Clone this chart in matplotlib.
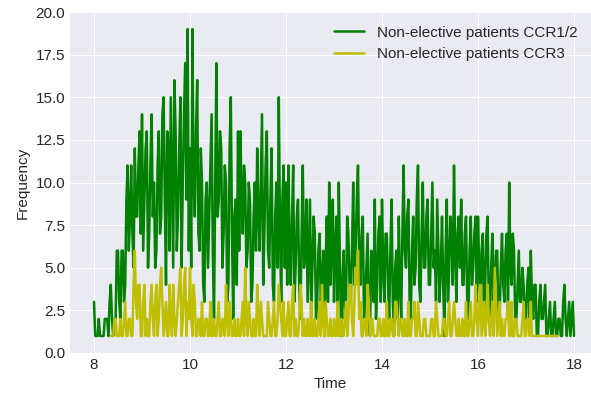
import numpy as np
import matplotlib
matplotlib.use("Agg")
from matplotlib import pyplot as plt

# counts per 1.5-minute bin, one row per hour
freq_ccr12 = [
    3, 1, 1, 1, 2, 1, 1, 1, 1, 2, 2, 2, 1, 3, 4, 2, 1, 2, 2, 6, 6, 3, 2, 6, 6, 3, 4, 9, 11, 6, 8, 11, 7, 5, 12, 8, 8, 11, 13, 7,
    14, 6, 9, 12, 13, 5, 7, 11, 14, 8, 10, 5, 6, 11, 13, 7, 8, 14, 15, 9, 4, 13, 12, 6, 15, 10, 5, 16, 13, 6, 8, 12, 15, 5, 10, 14, 17, 9, 19, 6,
    12, 5, 19, 10, 8, 13, 16, 7, 6, 12, 10, 4, 3, 9, 10, 5, 8, 11, 14, 6, 2, 10, 17, 8, 9, 13, 12, 5, 7, 11, 10, 3, 4, 12, 15, 7, 2, 8, 9, 4,
    13, 6, 13, 9, 7, 11, 10, 5, 6, 10, 9, 3, 4, 8, 10, 6, 12, 8, 6, 10, 14, 4, 7, 11, 13, 6, 5, 9, 12, 4, 3, 8, 10, 5, 15, 7, 3, 9, 11, 5,
    10, 4, 11, 6, 4, 8, 11, 3, 5, 8, 9, 4, 2, 7, 11, 5, 6, 9, 3, 6, 9, 2, 5, 8, 7, 2, 3, 6, 7, 3, 4, 6, 1, 5, 8, 3, 10, 4, 6, 9,
    3, 6, 8, 2, 10, 5, 1, 4, 6, 2, 3, 8, 7, 4, 3, 6, 10, 4, 6, 9, 11, 5, 4, 7, 8, 2, 3, 5, 7, 2, 1, 6, 5, 3, 9, 2, 4, 7, 8, 3,
    9, 5, 3, 7, 7, 4, 2, 6, 9, 3, 1, 5, 6, 2, 8, 4, 2, 7, 11, 6, 5, 8, 9, 3, 2, 6, 8, 4, 5, 9, 11, 4, 3, 7, 10, 5, 5, 8, 9, 4,
    4, 7, 10, 5, 6, 3, 9, 6, 3, 5, 8, 4, 1, 6, 9, 3, 5, 8, 7, 4, 11, 6, 3, 7, 8, 5, 9, 4, 4, 7, 8, 3, 2, 6, 8, 4, 5, 7, 8, 3,
    8, 5, 3, 6, 7, 2, 4, 7, 8, 3, 2, 5, 7, 3, 4, 6, 6, 2, 2, 5, 7, 4, 3, 6, 7, 2, 10, 5, 4, 7, 6, 2, 2, 4, 6, 3, 3, 5, 4, 2,
    2, 4, 5, 2, 6, 3, 2, 4, 4, 1, 1, 3, 4, 2, 2, 3, 4, 1, 1, 2, 3, 1, 1, 2, 3, 1, 1, 2, 2, 1, 1, 3, 4, 2, 1, 2, 3, 1, 2, 3,
    1,
]

freq_ccr3 = [
    1, 1, 1, 2, 2, 1, 1, 1, 2, 1, 1, 2, 3, 1, 1, 2, 2, 1, 1, 4, 6, 3, 2, 4, 4, 1,
    1, 3, 4, 1, 2, 1, 1, 3, 4, 2, 1, 3, 4, 1, 2, 4, 5, 3, 1, 2, 3, 1, 1, 4, 2, 1, 4, 2, 1, 2, 3, 4, 5, 1, 2, 4, 5, 1, 3, 2,
    5, 2, 1, 4, 3, 1, 1, 2, 2, 1, 3, 1, 1, 2, 2, 1, 1, 3, 1, 1, 2, 1, 1, 2, 3, 1, 1, 2, 2, 1, 4, 2, 1, 3, 2, 1, 1, 2, 1, 1,
    2, 1, 1, 2, 3, 1, 5, 2, 1, 3, 2, 1, 1, 2, 1, 1, 4, 2, 1, 3, 2, 1, 1, 1, 1, 3, 2, 1, 1, 2, 3, 1, 1, 2, 4, 3, 2, 1, 3, 1,
    1, 2, 3, 1, 1, 3, 4, 1, 2, 1, 1, 2, 4, 3, 1, 2, 1, 1, 2, 1, 1, 3, 1, 1, 2, 1, 1, 2, 3, 1, 4, 2, 1, 3, 2, 1, 1, 2, 1, 1,
    2, 1, 1, 3, 1, 1, 2, 1, 1, 2, 3, 1, 2, 4, 4, 2, 1, 3, 5, 4, 6, 2, 3, 1, 1, 2, 2, 1, 4, 3, 1, 2, 2, 1, 1, 1, 1, 2, 2, 1,
    1, 2, 1, 1, 3, 1, 1, 2, 2, 1, 1, 3, 3, 2, 1, 2, 2, 1, 1, 2, 1, 1, 3, 1, 1, 2, 2, 3, 1, 1, 3, 2, 1, 1, 1, 2, 2, 1, 1, 1,
    1, 2, 2, 1, 1, 3, 2, 1, 1, 1, 1, 2, 2, 1, 1, 2, 3, 1, 1, 2, 3, 2, 1, 1, 2, 1, 1, 2, 1, 1, 3, 1, 1, 2, 3, 1, 1, 2, 4, 2,
    1, 3, 4, 1, 2, 3, 1, 2, 4, 2, 1, 2, 3, 1, 5, 3, 1, 2, 3, 1, 2, 1, 1, 2, 2, 3, 1, 1, 3, 1, 1, 2, 2, 1, 1, 1, 1, 2, 3, 1,
    1, 2, 2, 1, 3, 1, 1, 1, 1, 1, 1, 1, 1, 1, 1, 1, 1, 1, 1, 1, 1, 1, 1, 1, 1, 1, 1,
]

time_ccr12 = np.linspace(8.0, 18.0, len(freq_ccr12))
time_ccr3 = np.linspace(8.35, 17.65, len(freq_ccr3))

plt.style.use("seaborn-v0_8-darkgrid")
plt.rcParams["font.family"] = ["Liberation Sans", "DejaVu Sans"]

fig = plt.figure(figsize=(5.91, 3.97), dpi=100)
ax = fig.add_axes([70 / 591, 44 / 397, 521 / 591, 341 / 397])

ax.plot(time_ccr12, freq_ccr12, color="g", lw=1.8, label="Non-elective patients CCR1/2")
ax.plot(time_ccr3, freq_ccr3, color="y", lw=1.8, label="Non-elective patients CCR3")

ax.set_xlim(7.5, 7.5 + 521 / 48)
ax.set_ylim(0, 20)
ax.set_xticks([8, 10, 12, 14, 16, 18])
ax.set_yticks(np.arange(0, 20.1, 2.5))
ax.tick_params(labelsize=11)
ax.set_xlabel("Time", fontsize=11)
ax.set_ylabel("Frequency", fontsize=11)
ax.legend(loc="upper right", fontsize=11)

fig.savefig("out.png", dpi=100)
